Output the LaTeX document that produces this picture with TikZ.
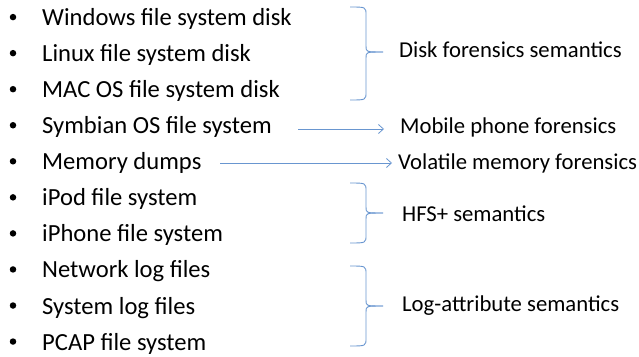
\documentclass[tikz,border=0pt]{standalone}
\usepackage{fontspec}
\setmainfont{Carlito}
\usetikzlibrary{arrows.meta}
\definecolor{linkblue}{RGB}{105,150,208}
\tikzset{
  item/.style={anchor=base west, inner sep=0pt, font=\fontsize{24.6}{28}\selectfont},
  dot/.style={circle, fill=black, inner sep=0pt, minimum size=6.5pt},
  label/.style={anchor=base west, inner sep=0pt, font=\fontsize{22.7}{26}\selectfont},
  conn/.style={draw=linkblue, line width=0.9pt},
  arr/.style={conn, -{Straight Barb[length=5pt, width=9pt, line width=0.8pt]}},
}
\begin{document}
\begin{tikzpicture}[x=1pt, y=-1pt]
\useasboundingbox (0,0) rectangle (639,356);
% bullets and items
\foreach \n/\t in {1/Windows file system disk, 2/Linux file system disk, 3/MAC OS file system disk, 4/Symbian OS file system, 5/Memory dumps, 6/iPod file system, 7/iPhone file system, 8/Network log files, 9/System log files, 10/PCAP file system}{
  \pgfmathsetmacro{\yb}{25.6+(\n-1)*36.05}
  \node[dot] (b\n) at (13,\yb-8.5) {};
  \node[item] (i\n) at (42,\yb) {\t};
}
% labels
\node[label] (disk) at (399,57) {Disk forensics semantics};
\node[label] (mob) at (400,133) {Mobile phone forensics};
\node[label] (vol) at (398,169) {Volatile memory forensics};
\node[label] (hfs) at (402,221) {HFS+ semantics};
\node[label] (log) at (402,311) {Log-attribute semantics};
% arrows
\coordinate (a1) at (298,129);
\coordinate (a2) at (384,129);
\draw[arr] (a1) -- (a2);
\coordinate (m1) at (220,163);
\coordinate (m2) at (392,163);
\draw[arr] (m1) -- (m2);
% braces
\foreach \nm/\top/\mid/\bot in {bd/7/52/100, bh/183/213/243, bl/266/306/346}{
  \coordinate (\nm t) at (350,\top);
  \coordinate (\nm m) at (383,\mid);
  \coordinate (\nm b) at (350,\bot);
  \draw[conn] (\nm t) .. controls (366,\top) .. (366,\top+8) -- (366,\mid-6)
     .. controls (366,\mid) .. (\nm m);
  \draw[conn] (\nm b) .. controls (366,\bot) .. (366,\bot-8) -- (366,\mid+6)
     .. controls (366,\mid) .. (\nm m);
}
\end{tikzpicture}
\end{document}
